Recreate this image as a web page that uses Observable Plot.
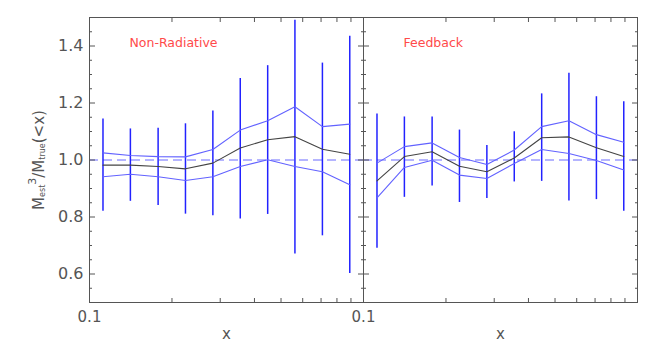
<!DOCTYPE html>
<html><head><meta charset="utf-8">
<script src="https://cdn.jsdelivr.net/npm/d3@7"></script>
<script src="https://cdn.jsdelivr.net/npm/@observablehq/plot@0.6"></script>
<style>body{margin:0;background:#fff} #chart{width:654px;height:348px}</style>
</head><body><div id="chart"></div>
<script>
const panels = ["Non-Radiative", "Feedback"];
const xBins = [0.112, 0.141, 0.178, 0.224, 0.282, 0.355, 0.447, 0.562, 0.708, 0.891];
const nrMedian  = [0.982, 0.982, 0.977, 0.969, 0.989, 1.042, 1.071, 1.082, 1.038, 1.020];
const nrUpper   = [1.025, 1.016, 1.012, 1.011, 1.037, 1.105, 1.138, 1.187, 1.117, 1.126];
const nrLower   = [0.941, 0.950, 0.941, 0.928, 0.941, 0.977, 1.001, 0.977, 0.959, 0.913];
const nrBarHigh = [1.144, 1.109, 1.111, 1.127, 1.172, 1.286, 1.331, 1.490, 1.340, 1.434];
const nrBarLow  = [0.820, 0.855, 0.840, 0.810, 0.804, 0.793, 0.809, 0.670, 0.734, 0.602];
const fbMedian  = [0.927, 1.012, 1.029, 0.978, 0.959, 1.007, 1.078, 1.081, 1.043, 1.012];
const fbUpper   = [0.989, 1.047, 1.060, 1.009, 0.984, 1.035, 1.117, 1.138, 1.089, 1.062];
const fbLower   = [0.867, 0.974, 0.999, 0.947, 0.935, 0.988, 1.037, 1.023, 0.998, 0.965];
const fbBarHigh = [1.161, 1.151, 1.151, 1.105, 1.051, 1.099, 1.232, 1.304, 1.222, 1.204];
const fbBarLow  = [0.690, 0.869, 0.909, 0.851, 0.865, 0.923, 0.925, 0.856, 0.861, 0.820];
const yMajorTicks = [0.6, 0.8, 1.0, 1.2, 1.4];
const yMinorTicks = [0.55, 0.65, 0.7, 0.75, 0.85, 0.9, 0.95, 1.05, 1.1, 1.15, 1.25, 1.3, 1.35, 1.45];
const xMinorTicks = [0.2, 0.3, 0.4, 0.5, 0.6, 0.7, 0.8, 0.9];
const xTickLabels = [0.1];
const yReference = [1.0];

const series = {
  "Non-Radiative": {median: nrMedian, upper: nrUpper, lower: nrLower, hi: nrBarHigh, lo: nrBarLow},
  "Feedback": {median: fbMedian, upper: fbUpper, lower: fbLower, hi: fbBarHigh, lo: fbBarLow}
};
const rows = panels.flatMap(p => xBins.map((x, i) => ({
  panel: p, x,
  median: series[p].median[i], upper: series[p].upper[i], lower: series[p].lower[i],
  hi: series[p].hi[i], lo: series[p].lo[i]
})));

const ink = "#555";
const chart = Plot.plot({
  width: 654, height: 348,
  marginLeft: 88, marginRight: 17, marginTop: 17, marginBottom: 46,
  style: {fontFamily: "DejaVu Sans", background: "#fff"},
  fx: {domain: panels, padding: 0, axis: null},
  x: {type: "log", domain: [0.1, 1], axis: null},
  y: {domain: [0.5, 1.5], axis: null},
  marks: [
    Plot.ruleY(yReference, {stroke: "#6a6aff", strokeDasharray: "9,5", strokeWidth: 1}),
    Plot.ruleX(rows, {fx: "panel", x: "x", y1: "lo", y2: "hi", stroke: "#2222ff", strokeWidth: 1.5}),
    Plot.line(rows, {fx: "panel", x: "x", y: "upper", stroke: "#6262ff", strokeWidth: 1.1}),
    Plot.line(rows, {fx: "panel", x: "x", y: "lower", stroke: "#6262ff", strokeWidth: 1.1}),
    Plot.line(rows, {fx: "panel", x: "x", y: "median", stroke: "#444", strokeWidth: 1.1}),
    Plot.frame({stroke: ink}),
    Plot.axisX(xMinorTicks, {anchor: "bottom", tickSize: -4, fill: "none", stroke: ink, label: null}),
    Plot.axisX(xMinorTicks, {anchor: "top", tickSize: -4, fill: "none", stroke: ink, label: null}),
    Plot.axisY(yMajorTicks, {anchor: "left", facetAnchor: null, tickSize: -6, fill: "none", stroke: ink, label: null}),
    Plot.axisY(yMajorTicks, {anchor: "right", facetAnchor: null, tickSize: -6, fill: "none", stroke: ink, label: null}),
    Plot.axisY(yMinorTicks, {anchor: "left", facetAnchor: null, tickSize: -3, fill: "none", stroke: ink, label: null}),
    Plot.axisY(yMinorTicks, {anchor: "right", facetAnchor: null, tickSize: -3, fill: "none", stroke: ink, label: null}),
    Plot.axisY(yMajorTicks, {anchor: "left", tickSize: 0, tickPadding: 6, tickFormat: d => d.toFixed(1), fontSize: 16, fill: ink, label: null}),
    Plot.axisX(xTickLabels, {anchor: "bottom", tickSize: 0, tickPadding: 9, tickFormat: d => String(d), fontSize: 15, fill: ink, label: null}),
    Plot.text(["x"], {frameAnchor: "bottom", dy: 36, text: d => d, fontSize: 15, fill: ink}),
    Plot.text(panels, {fx: d => d, text: d => d, frameAnchor: "top-left", dx: 40, dy: 25, textAnchor: "start", lineAnchor: "middle", fill: "#ff4a4a", fontSize: 12.5})
  ]
});
document.getElementById("chart").append(chart);

const svg = d3.select(chart);
const lab = svg.append("text")
  .attr("transform", "translate(39,160) rotate(-90)")
  .attr("text-anchor", "middle")
  .attr("dominant-baseline", "central")
  .attr("fill", ink)
  .attr("font-family", "DejaVu Sans")
  .attr("font-size", 15);
lab.append("tspan").text("M");
lab.append("tspan").attr("font-size", 8).attr("dy", 3).text("est");
lab.append("tspan").attr("font-size", 11).attr("dy", -10).text("3");
lab.append("tspan").attr("dy", 7).text("/M");
lab.append("tspan").attr("font-size", 8).attr("dy", 3).text("true");
lab.append("tspan").attr("dy", -3).text("(<x)");
</script>
</body></html>
